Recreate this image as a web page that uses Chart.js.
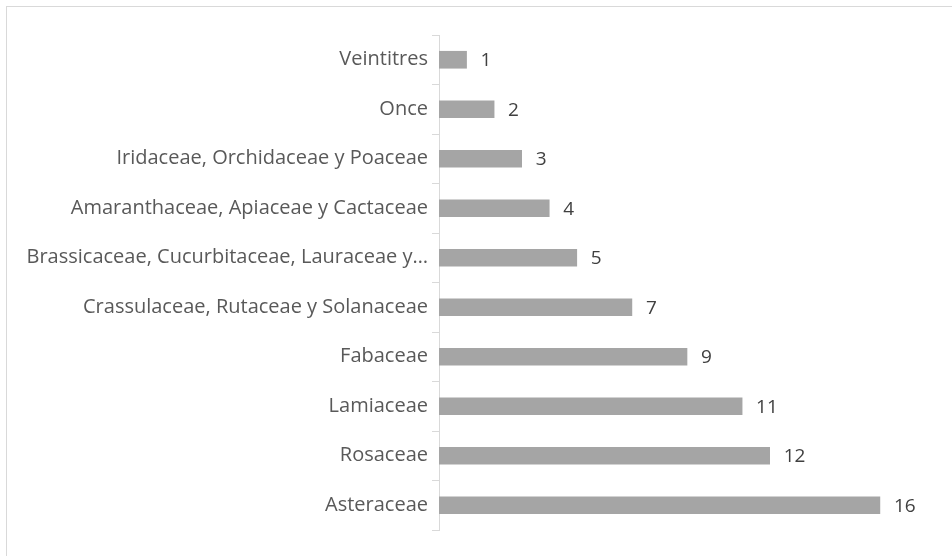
<!DOCTYPE html>
<html>
<head>
<meta charset="utf-8">
<script src="https://cdn.jsdelivr.net/npm/chart.js@4"></script>
<style>
html,body{margin:0;padding:0;background:#fff;overflow:hidden;}
#wrap{position:relative;width:952px;height:556px;}
#frame{position:absolute;left:6px;top:6px;width:960px;height:570px;border:1px solid #d9d9d9;box-sizing:border-box;}
canvas{position:absolute;left:0;top:0;}
</style>
</head>
<body>
<div id="wrap">
<div id="frame"></div>
<canvas id="c" width="952" height="556"></canvas>
</div>
<script>
const categories = [
  "Veintitres",
  "Once",
  "Iridaceae, Orchidaceae y Poaceae",
  "Amaranthaceae, Apiaceae y Cactaceae",
  "Brassicaceae, Cucurbitaceae, Lauraceae y…",
  "Crassulaceae, Rutaceae y Solanaceae",
  "Fabaceae",
  "Lamiaceae",
  "Rosaceae",
  "Asteraceae"
];
const values = [1, 2, 3, 4, 5, 7, 9, 11, 12, 16];

const FONT = "'Open Sans', sans-serif";

const valueLabels = {
  id: 'valueLabels',
  afterDatasetsDraw(chart) {
    const ctx = chart.ctx;
    const meta = chart.getDatasetMeta(0);
    ctx.save();
    ctx.font = "19px " + FONT;
    ctx.fillStyle = "#404040";
    ctx.textAlign = "left";
    ctx.textBaseline = "middle";
    meta.data.forEach((bar, i) => {
      ctx.fillText(String(values[i]), bar.x + 14, bar.y + 1);
    });
    ctx.restore();
  }
};

new Chart(document.getElementById('c'), {
  type: 'bar',
  data: {
    labels: categories,
    datasets: [{
      data: values,
      backgroundColor: '#a5a5a5',
      borderWidth: 0,
      barThickness: 17
    }]
  },
  options: {
    indexAxis: 'y',
    responsive: false,
    animation: false,
    devicePixelRatio: 1,
    layout: { padding: { top: 35, bottom: 26, left: 0, right: 17 } },
    plugins: { legend: { display: false }, tooltip: { enabled: false } },
    scales: {
      x: { display: false, min: 0, max: 18 },
      y: {
        afterFit(scale) { scale.width = 439; },
        grid: { drawOnChartArea: false, color: '#d9d9d9', tickLength: 7, offset: true },
        border: { color: '#d9d9d9', width: 1 },
        ticks: { font: { family: FONT, size: 20 }, color: '#595959', padding: 4, autoSkip: false }
      }
    }
  },
  plugins: [valueLabels]
});
</script>
</body>
</html>
